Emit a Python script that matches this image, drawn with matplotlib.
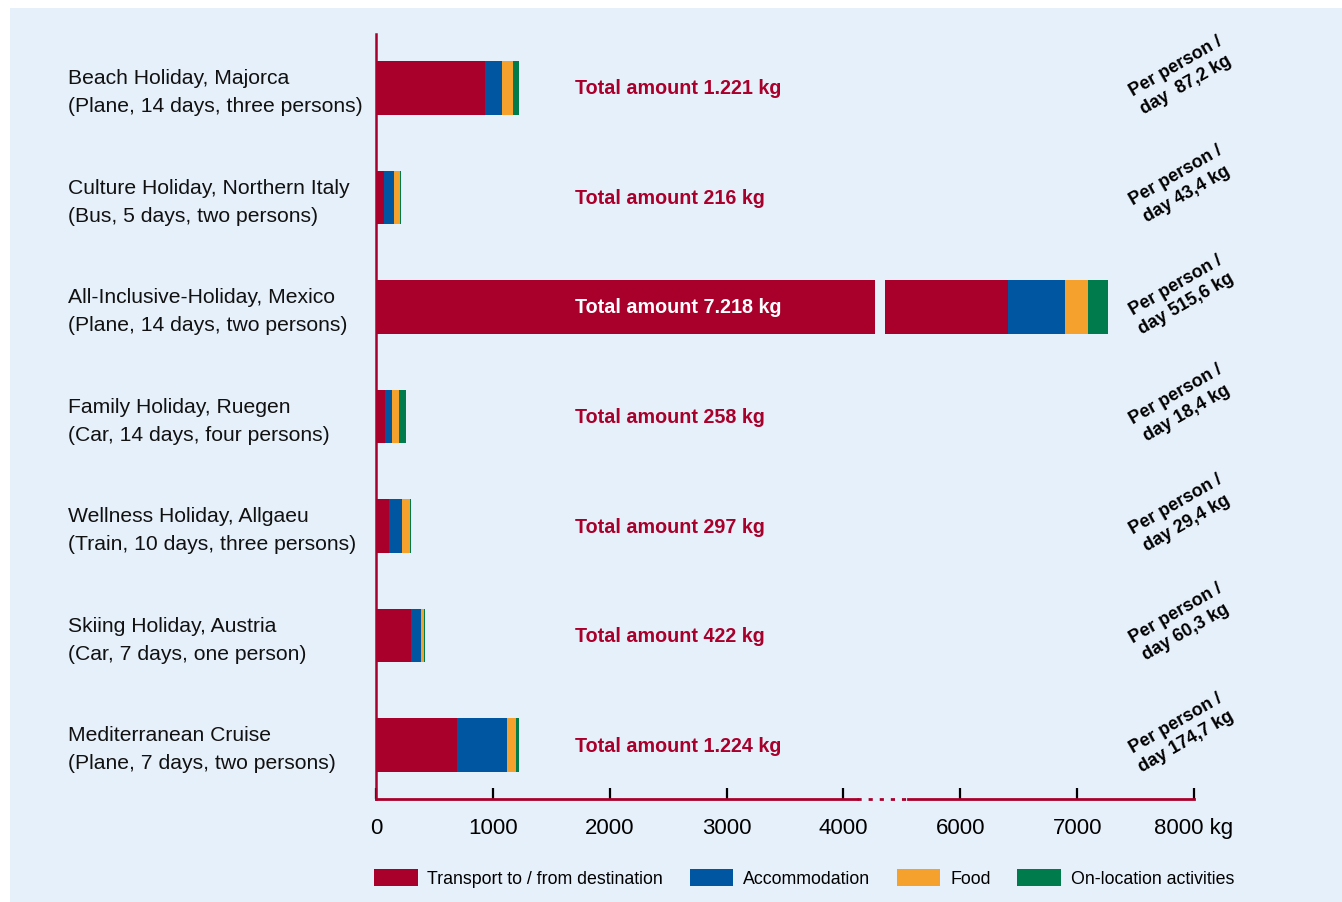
import numpy as np
import matplotlib
matplotlib.use('Agg')
import matplotlib.pyplot as plt
from matplotlib.patches import Rectangle, Patch
from matplotlib.transforms import blended_transform_factory

plt.rcParams['font.family'] = ['Liberation Sans', 'DejaVu Sans']

# data (kg CO2)
labels = ['Beach Holiday, Majorca\n(Plane, 14 days, three persons)',
          'Culture Holiday, Northern Italy\n(Bus, 5 days, two persons)',
          'All-Inclusive-Holiday, Mexico\n(Plane, 14 days, two persons)',
          'Family Holiday, Ruegen\n(Car, 14 days, four persons)',
          'Wellness Holiday, Allgaeu\n(Train, 10 days, three persons)',
          'Skiing Holiday, Austria\n(Car, 7 days, one person)',
          'Mediterranean Cruise\n(Plane, 7 days, two persons)']
transport = [932, 70, 6410, 80, 111, 299, 690]
accommodation = [145, 85, 487, 55, 111, 86, 435]
food = [94, 48, 197, 60, 69, 30, 75]
activities = [50, 13, 171, 63, 6, 7, 24]
totals = ['1.221', '216', '7.218', '258', '297', '422', '1.224']
per_day = ['87,2', '43,4', '515,6', '18,4', '29,4', '60,3', '174,7']
parts = ['Transport to / from destination', 'Accommodation', 'Food', 'On-location activities']
colors = ['#a8002b', '#0056a0', '#f5a12d', '#007b4c']
xticks = [0, 1000, 2000, 3000, 4000, 6000, 7000, 8000]
xticklabels = ['0', '1000', '2000', '3000', '4000', '6000', '7000', '8000 kg']

bg = '#e6f0fa'
red = '#a8002b'

# broken axis: 4270..5360 is squeezed into a small gap
B0, B1, GAP = 4270, 5360, 90

def forward(v):
    v = np.asarray(v, dtype=float)
    return np.where(v <= B0, v, np.where(v >= B1, v - (B1 - B0 - GAP), B0 + (v - B0) * GAP / (B1 - B0)))

def inverse(d):
    d = np.asarray(d, dtype=float)
    return np.where(d <= B0, d, np.where(d >= B0 + GAP, d + (B1 - B0 - GAP), B0 + (d - B0) * (B1 - B0) / GAP))

fig = plt.figure(figsize=(13.42, 9.03), dpi=100)
fig.patch.set_facecolor('white')
fig.patches.append(Rectangle((10 / 1342, 0), 1, 1 - 9 / 903, transform=fig.transFigure,
                             facecolor=bg, edgecolor='none', zorder=-10))

ax = fig.add_axes([376 / 1342, 1 - 800 / 903, (1194 - 376) / 1342, (800 - 35) / 903])
ax.set_facecolor('none')
ax.set_xscale('function', functions=(forward, inverse))

y = np.arange(len(labels))
left = np.zeros(len(labels))
for vals, c in zip([transport, accommodation, food, activities], colors):
    ax.barh(y, vals, left=left, height=0.485, color=c, zorder=2)
    left += np.array(vals)

# gap in the Mexico bar at the axis break
ax.barh(2, B1 - B0, left=B0, height=0.5, color=bg, zorder=3)

ax.set_xlim(0, 8000)
ax.set_ylim(len(labels) - 0.507, -0.493)

ax.set_yticks([])
ax.set_xticks(xticks)
ax.set_xticklabels(xticklabels, fontsize=16)
ax.tick_params(axis='x', direction='in', length=8, width=1.6, color='black', pad=13)

for s in ['top', 'right', 'bottom']:
    ax.spines[s].set_visible(False)
ax.spines['left'].set_color(red)
ax.spines['left'].set_linewidth(1.8)

# bottom axis line with a dotted break
tb = blended_transform_factory(ax.transData, ax.transAxes)
ax.plot([0, 4120], [0, 0], color=red, lw=2.0, transform=tb, clip_on=False, zorder=4)
ax.plot([4120, 5550], [0, 0], color=red, lw=2.0, ls=(0, (1.5, 2.5)), transform=tb, clip_on=False, zorder=4)
ax.plot([5550, 8000], [0, 0], color=red, lw=2.0, transform=tb, clip_on=False, zorder=4)

# category labels on the left
tl = blended_transform_factory(fig.transFigure, ax.transData)
for i, lab in enumerate(labels):
    ax.text(68 / 1342, i + 0.035, lab, transform=tl, ha='left', va='center', fontsize=15.2,
            linespacing=1.62, color='#111111')

# total amount labels
for i, t in enumerate(totals):
    c = 'white' if i == 2 else red
    ax.text(1700, i, f'Total amount {t} kg', ha='left', va='center', fontsize=14.2,
            fontweight='bold', color=c, zorder=5)

# per person / day labels
tr = blended_transform_factory(ax.transAxes, ax.transData)
for i, p in enumerate(per_day):
    sep = '  ' if i == 0 else ' '
    ax.text(0.984, i - 0.12, f'Per person /\nday{sep}{p} kg', transform=tr, ha='center', va='center',
            rotation=30, fontsize=13, fontweight='bold', color='black', linespacing=1.35,
            clip_on=False)

handles = [Patch(facecolor=c, edgecolor='none') for c in colors]
fig.legend(handles, parts, loc='center', bbox_to_anchor=(804 / 1342, 1 - 879 / 903), ncol=4,
           frameon=False, fontsize=12.8, handlelength=2.45, handleheight=1.15,
           handletextpad=0.55, columnspacing=1.5)

fig.savefig('out.png', dpi=100, facecolor=fig.get_facecolor())
